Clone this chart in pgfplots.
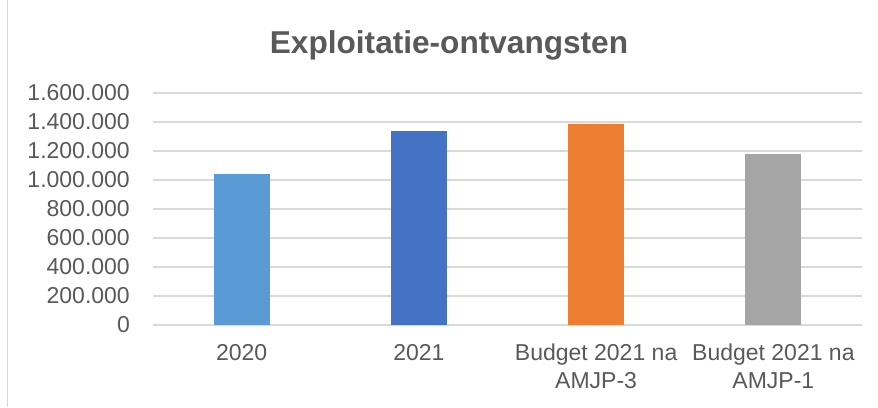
\documentclass[border=0pt]{standalone}
\usepackage{pgfplots}
\pgfplotsset{compat=1.18}
\usepackage{fontspec}
\setmainfont{Liberation Sans}
\definecolor{txt}{HTML}{595959}
\definecolor{gridc}{HTML}{D9D9D9}
\definecolor{c1}{HTML}{5B9BD5}
\definecolor{c2}{HTML}{4472C4}
\definecolor{c3}{HTML}{ED7D31}
\definecolor{c4}{HTML}{A5A5A5}
\begin{document}
\begin{tikzpicture}[x=1pt,y=1pt]
\path[use as bounding box] (0,0) rectangle (878,407);
\draw[gridc, line width=1.2pt] (7.3,0) -- (7.3,407);
\begin{axis}[
  at={(153pt,82pt)}, anchor=south west,
  scale only axis, width=709pt, height=232pt,
  xmin=-0.5, xmax=3.5, ymin=0, ymax=1600000,
  axis line style={draw=none},
  ybar, bar width=56pt,
  ytick={0,200000,400000,600000,800000,1000000,1200000,1400000,1600000},
  scaled y ticks=false,
  /pgf/number format/fixed,
  /pgf/number format/1000 sep={.},
  /pgf/number format/assume math mode=true,
  ticklabel style={font=\fontsize{23}{27.3}\selectfont, text=txt},
  major tick length=0pt,
  ymajorgrids, grid style={gridc, line width=1.2pt},
  xtick={0,1,2,3},
  xticklabels={2020,2021,{Budget 2021 na\\AMJP-3},{Budget 2021 na\\AMJP-1}},
  xticklabel style={align=center, inner sep=0pt, yshift=-19pt},
  yticklabel style={inner sep=0pt, xshift=-23pt},
]
\addplot[bar shift=0pt, fill=c1, draw=none] coordinates {(0,1038000)};
\addplot[bar shift=0pt, fill=c2, draw=none] coordinates {(1,1337000)};
\addplot[bar shift=0pt, fill=c3, draw=none] coordinates {(2,1386000)};
\addplot[bar shift=0pt, fill=c4, draw=none] coordinates {(3,1177000)};
\end{axis}
\node[anchor=base, font=\bfseries\fontsize{31.6}{38}\selectfont, text=txt] at (449,353.7) {Exploitatie-ontvangsten};
\end{tikzpicture}
\end{document}
